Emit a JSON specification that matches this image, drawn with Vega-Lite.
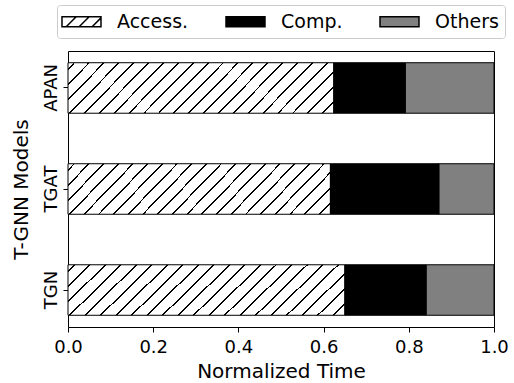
{
  "$schema": "https://vega.github.io/schema/vega-lite/v6.json",
  "width": 426,
  "height": 276,
  "autosize": {"type": "none"},
  "padding": {"left": 68, "top": 51, "right": 20, "bottom": 56},
  "background": "white",
  "config": {
    "font": "DejaVu Sans",
    "view": {"stroke": "black", "strokeWidth": 1},
    "axis": {"domain": false, "grid": false, "tickColor": "black", "tickWidth": 1, "tickSize": 5, "labelColor": "black", "titleColor": "black", "labelFont": "DejaVu Sans", "titleFont": "DejaVu Sans", "titleFontWeight": "normal"}
  },
  "data": {
    "values": [
      {"model": "APAN", "part": "Access.", "ord": 1, "value": 0.624},
      {"model": "APAN", "part": "Comp.", "ord": 2, "value": 0.168},
      {"model": "APAN", "part": "Others", "ord": 3, "value": 0.208},
      {"model": "TGAT", "part": "Access.", "ord": 1, "value": 0.616},
      {"model": "TGAT", "part": "Comp.", "ord": 2, "value": 0.255},
      {"model": "TGAT", "part": "Others", "ord": 3, "value": 0.129},
      {"model": "TGN", "part": "Access.", "ord": 1, "value": 0.650},
      {"model": "TGN", "part": "Comp.", "ord": 2, "value": 0.191},
      {"model": "TGN", "part": "Others", "ord": 3, "value": 0.159}
    ]
  },
  "mark": {"type": "bar", "stroke": "black", "strokeWidth": 1},
  "encoding": {
    "y": {
      "field": "model", "type": "nominal", "sort": ["APAN", "TGAT", "TGN"],
      "scale": {"paddingInner": 0.5, "paddingOuter": 0.116},
      "axis": {"title": "T-GNN Models", "titleFontSize": 20, "titlePadding": 11, "labelAngle": -90, "labelFontSize": 18, "labelPadding": 3}
    },
    "x": {
      "field": "value", "type": "quantitative", "stack": "zero",
      "scale": {"domain": [0, 1], "nice": false},
      "axis": {"title": "Normalized Time", "titleFontSize": 20, "titlePadding": 5, "values": [0, 0.2, 0.4, 0.6, 0.8, 1], "format": ".1f", "labelFontSize": 18, "labelPadding": 6, "labelFlush": false}
    },
    "order": {"field": "ord", "type": "quantitative"},
    "fill": {
      "field": "part", "type": "nominal",
      "condition": {"test": "datum.part === 'Access.'", "value": {"gradient": "linear", "x1": 0, "y1": 0, "x2": 1.147, "y2": 0.214, "stops": [
            {"offset": 0, "color": "white"},
            {"offset": 0.017, "color": "white"}, {"offset": 0.017, "color": "black"}, {"offset": 0.023, "color": "black"}, {"offset": 0.023, "color": "white"},
            {"offset": 0.0642, "color": "white"}, {"offset": 0.0642, "color": "black"}, {"offset": 0.0702, "color": "black"}, {"offset": 0.0702, "color": "white"},
            {"offset": 0.1114, "color": "white"}, {"offset": 0.1114, "color": "black"}, {"offset": 0.1174, "color": "black"}, {"offset": 0.1174, "color": "white"},
            {"offset": 0.1586, "color": "white"}, {"offset": 0.1586, "color": "black"}, {"offset": 0.1646, "color": "black"}, {"offset": 0.1646, "color": "white"},
            {"offset": 0.2058, "color": "white"}, {"offset": 0.2058, "color": "black"}, {"offset": 0.2118, "color": "black"}, {"offset": 0.2118, "color": "white"},
            {"offset": 0.2530, "color": "white"}, {"offset": 0.2530, "color": "black"}, {"offset": 0.2590, "color": "black"}, {"offset": 0.2590, "color": "white"},
            {"offset": 0.3002, "color": "white"}, {"offset": 0.3002, "color": "black"}, {"offset": 0.3062, "color": "black"}, {"offset": 0.3062, "color": "white"},
            {"offset": 0.3474, "color": "white"}, {"offset": 0.3474, "color": "black"}, {"offset": 0.3534, "color": "black"}, {"offset": 0.3534, "color": "white"},
            {"offset": 0.3946, "color": "white"}, {"offset": 0.3946, "color": "black"}, {"offset": 0.4006, "color": "black"}, {"offset": 0.4006, "color": "white"},
            {"offset": 0.4418, "color": "white"}, {"offset": 0.4418, "color": "black"}, {"offset": 0.4478, "color": "black"}, {"offset": 0.4478, "color": "white"},
            {"offset": 0.4890, "color": "white"}, {"offset": 0.4890, "color": "black"}, {"offset": 0.4950, "color": "black"}, {"offset": 0.4950, "color": "white"},
            {"offset": 0.5362, "color": "white"}, {"offset": 0.5362, "color": "black"}, {"offset": 0.5422, "color": "black"}, {"offset": 0.5422, "color": "white"},
            {"offset": 0.5834, "color": "white"}, {"offset": 0.5834, "color": "black"}, {"offset": 0.5894, "color": "black"}, {"offset": 0.5894, "color": "white"},
            {"offset": 0.6306, "color": "white"}, {"offset": 0.6306, "color": "black"}, {"offset": 0.6366, "color": "black"}, {"offset": 0.6366, "color": "white"},
            {"offset": 0.6778, "color": "white"}, {"offset": 0.6778, "color": "black"}, {"offset": 0.6838, "color": "black"}, {"offset": 0.6838, "color": "white"},
            {"offset": 0.7250, "color": "white"}, {"offset": 0.7250, "color": "black"}, {"offset": 0.7310, "color": "black"}, {"offset": 0.7310, "color": "white"},
            {"offset": 0.7722, "color": "white"}, {"offset": 0.7722, "color": "black"}, {"offset": 0.7782, "color": "black"}, {"offset": 0.7782, "color": "white"},
            {"offset": 0.8194, "color": "white"}, {"offset": 0.8194, "color": "black"}, {"offset": 0.8254, "color": "black"}, {"offset": 0.8254, "color": "white"},
            {"offset": 0.8666, "color": "white"}, {"offset": 0.8666, "color": "black"}, {"offset": 0.8726, "color": "black"}, {"offset": 0.8726, "color": "white"},
            {"offset": 0.9138, "color": "white"}, {"offset": 0.9138, "color": "black"}, {"offset": 0.9198, "color": "black"}, {"offset": 0.9198, "color": "white"},
            {"offset": 0.9610, "color": "white"}, {"offset": 0.9610, "color": "black"}, {"offset": 0.9670, "color": "black"}, {"offset": 0.9670, "color": "white"},
            {"offset": 1, "color": "white"}
          ]}},
      "scale": {"domain": ["Access.", "Comp.", "Others"], "range": ["white", "black", "#808080"]},
      "legend": {
        "title": null,
        "orient": "none",
        "legendX": -11,
        "legendY": -46,
        "direction": "horizontal",
        "columns": 3,
        "symbolType": {"expr": "datum.value === 'Access.' ? 'M-1.18,-0.513H2.82V0.513H-1.18Z M-0.75,0.513L0.276,-0.513 M0.58,0.513L1.606,-0.513 M1.91,0.513L2.82,-0.397' : 'M-1.18,-0.513H2.82V0.513H-1.18Z'"},
        "symbolSize": 380,
        "symbolOpacity": 1,
        "labelFontSize": 19,
        "labelFont": "DejaVu Sans",
        "labelColor": "black",
        "labelOffset": 33,
        "columnPadding": 33,
        "padding": 6,
        "strokeColor": "#cccccc",
        "fillColor": "white",
        "cornerRadius": 3,
        "encode": {
          "symbols": {
            "update": {
              "stroke": {"value": "black"},
              "strokeWidth": {"value": 1}
            }
          }
        }
      }
    }
  }
}
